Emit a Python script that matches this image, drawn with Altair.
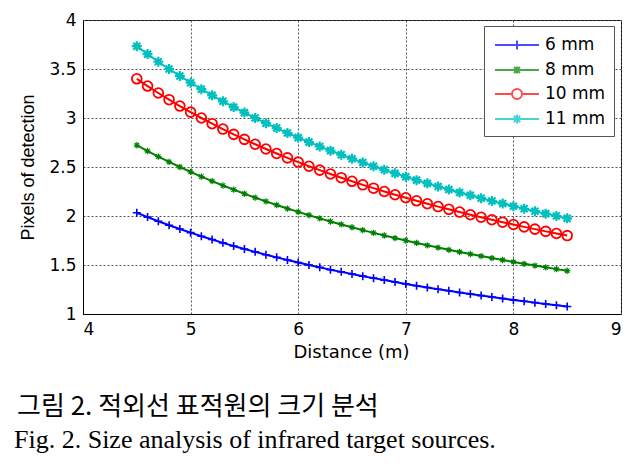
import altair as alt
import pandas as pd

# ---- data ----
distance = [4.5, 4.6, 4.7, 4.8, 4.9, 5.0, 5.1, 5.2, 5.3, 5.4, 5.5, 5.6, 5.7, 5.8,
            5.9, 6.0, 6.1, 6.2, 6.3, 6.4, 6.5, 6.6, 6.7, 6.8, 6.9, 7.0, 7.1, 7.2,
            7.3, 7.4, 7.5, 7.6, 7.7, 7.8, 7.9, 8.0, 8.1, 8.2, 8.3, 8.4, 8.5]

px_6mm = [2.033, 1.989, 1.947, 1.906, 1.867, 1.830, 1.794, 1.760, 1.726, 1.694,
          1.664, 1.634, 1.605, 1.578, 1.551, 1.525, 1.500, 1.476, 1.452, 1.430,
          1.408, 1.386, 1.366, 1.346, 1.326, 1.307, 1.289, 1.271, 1.253, 1.237,
          1.220, 1.204, 1.188, 1.173, 1.158, 1.144, 1.130, 1.116, 1.102, 1.089, 1.076]

px_8mm = [2.722, 2.663, 2.606, 2.552, 2.500, 2.450, 2.402, 2.356, 2.311, 2.269,
          2.227, 2.188, 2.149, 2.112, 2.076, 2.042, 2.008, 1.976, 1.944, 1.914,
          1.885, 1.856, 1.828, 1.801, 1.775, 1.750, 1.725, 1.701, 1.678, 1.655,
          1.633, 1.612, 1.591, 1.571, 1.551, 1.531, 1.512, 1.494, 1.476, 1.458, 1.441]

px_10mm = [3.400, 3.326, 3.255, 3.187, 3.122, 3.060, 3.000, 2.942, 2.887, 2.833,
           2.782, 2.732, 2.684, 2.638, 2.593, 2.550, 2.508, 2.468, 2.429, 2.391,
           2.354, 2.318, 2.284, 2.250, 2.217, 2.186, 2.155, 2.125, 2.096, 2.068,
           2.040, 2.013, 1.987, 1.962, 1.937, 1.913, 1.889, 1.866, 1.843, 1.821, 1.800]

px_11mm = [3.733, 3.652, 3.574, 3.500, 3.429, 3.360, 3.294, 3.231, 3.170, 3.111,
           3.055, 3.000, 2.947, 2.897, 2.847, 2.800, 2.754, 2.710, 2.667, 2.625,
           2.585, 2.546, 2.507, 2.471, 2.435, 2.400, 2.366, 2.333, 2.301, 2.270,
           2.240, 2.211, 2.182, 2.154, 2.127, 2.100, 2.074, 2.049, 2.024, 2.000, 1.976]

series_names = ["6 mm", "8 mm", "10 mm", "11 mm"]
series_colors = ["#0000FF", "#008000", "#FF0000", "#00BFBF"]
x_ticks = [4, 5, 6, 7, 8, 9]
y_ticks = [1, 1.5, 2, 2.5, 3, 3.5, 4]

x_title = "Distance (m)"
y_title = "Pixels of detection"
caption_ko = "그림 2. 적외선 표적원의 크기 분석"
caption_en = "Fig. 2. Size analysis of infrared target sources."

# ---- build table ----
rows = []
for name, vals in zip(series_names, [px_6mm, px_8mm, px_10mm, px_11mm]):
    for d, v in zip(distance, vals):
        rows.append({"distance": d, "pixels": v, "series": name})
df = pd.DataFrame(rows)

color_scale = alt.Scale(domain=series_names, range=series_colors)
x_enc = alt.X("distance:Q", scale=alt.Scale(domain=[4, 9], nice=False),
              axis=alt.Axis(values=x_ticks, format="d", title=x_title,
                            titleX=268, titleY=38, titleBaseline="middle",
                            titleAnchor=None))
y_enc = alt.Y("pixels:Q", scale=alt.Scale(domain=[1, 4], nice=False),
              axis=alt.Axis(values=y_ticks, format="~g", title=y_title,
                            titleX=-55, titleY=147, titleAngle=270,
                            titleAlign="center", titleBaseline="middle",
                            titleFont="Liberation Sans", titleFontSize=18))

base = alt.Chart(df)

# legend symbols: a line with the marker in the middle
LEG = [
    "M-0.8,0H3.6M1.4,-0.45V0.45",
    "M-0.8,0H3.6M1.1,-0.3L1.7,0.3M1.1,0.3L1.7,-0.3M1.4,-0.35V0.35",
    "M-0.8,0H0.9M1.9,0H3.6M1.9,0A0.5,0.5 0 1 1 0.9,0A0.5,0.5 0 1 1 1.9,0",
    "M-0.8,0H3.6M1.4,-0.45V0.45M1.08,-0.32L1.72,0.32M1.08,0.32L1.72,-0.32",
]
legend_layer = base.transform_filter("datum.distance > 100").mark_point(
    filled=False
).encode(
    x=x_enc, y=y_enc,
    color=alt.Color("series:N", scale=color_scale,
                    legend=alt.Legend(title=None)),
    shape=alt.Shape("series:N", scale=alt.Scale(domain=series_names, range=LEG),
                    legend=alt.Legend(title=None)),
)

lines = base.mark_line(strokeWidth=2).encode(
    x="distance:Q", y="pixels:Q",
    color=alt.Color("series:N", scale=color_scale, legend=None),
    detail="series:N",
)

ASTER = "M-1,0H1M0,-1V1M-0.7,-0.7L0.7,0.7M-0.7,0.7L0.7,-0.7"
PLUS = "M-1,0H1M0,-1V1"
marker_specs = {
    "6 mm": dict(shape=PLUS, size=64, strokeWidth=1.6),
    "8 mm": dict(shape=ASTER, size=40, strokeWidth=1.2),
    "10 mm": dict(shape="circle", size=95, strokeWidth=1.8),
    "11 mm": dict(shape=ASTER, size=100, strokeWidth=2.2),
}
marker_layers = []
for name in series_names:
    spec = marker_specs[name]
    marker_layers.append(
        base.transform_filter(alt.datum.series == name).mark_point(
            filled=False, opacity=1, **spec
        ).encode(
            x="distance:Q", y="pixels:Q",
            color=alt.Color("series:N", scale=color_scale, legend=None),
        )
    )

cap_df = pd.DataFrame({"ko": [caption_ko], "en": [caption_en]})
cap_ko = alt.Chart(cap_df).mark_text(
    align="left", baseline="alphabetic", font="Noto Sans CJK KR",
    fontSize=26, color="black"
).encode(x=alt.value(-66), y=alt.value(395), text="ko:N")
cap_en = alt.Chart(cap_df).mark_text(
    align="left", baseline="alphabetic", font="Liberation Serif",
    fontSize=26, color="black"
).encode(x=alt.value(-69), y=alt.value(428), text="en:N")

chart = alt.layer(legend_layer, lines, *marker_layers, cap_ko, cap_en).properties(
    width=538, height=294,
    autosize=alt.AutoSizeParams(type="none"),
    padding={"left": 75, "top": 12, "right": 9, "bottom": 144},
).configure_view(
    stroke="black", strokeWidth=1
).configure_axis(
    grid=True, gridColor="#555", gridDash=[2, 2], gridWidth=1,
    domainColor="black", domainWidth=1,
    ticks=False, labelPadding=7,
    labelFont="DejaVu Sans", labelFontSize=17, labelColor="black",
    titleFont="DejaVu Sans", titleFontSize=18, titleColor="black",
    titleFontWeight="normal",
).configure_legend(
    orient="none", legendX=401, legendY=6, padding=8,
    strokeColor="#555", fillColor="white",
    symbolSize=400, symbolStrokeWidth=2,
    labelOffset=31, rowPadding=5,
    labelFont="DejaVu Sans", labelFontSize=17, labelColor="black",
)

chart.save("out.html", embed_options={"renderer": "svg", "actions": False})
